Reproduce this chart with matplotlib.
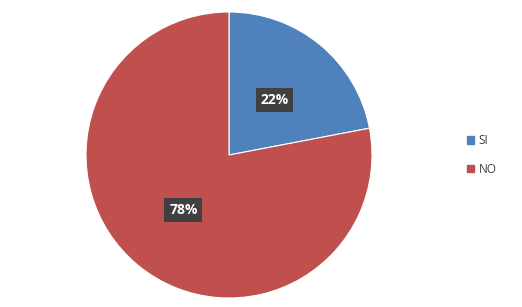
import matplotlib
matplotlib.use("Agg")
import matplotlib.pyplot as plt
import matplotlib.patches as mpatches

# Data
labels = ["SI", "NO"]
values = [22, 78]
colors = ["#4F81BD", "#C0504D"]

W, H = 522, 307
fig = plt.figure(figsize=(W / 100, H / 100), dpi=100)

# pie centered at (229, 155) px, radius 143 px
cx, cy, r = 229, 155, 143
ax = fig.add_axes([(cx - r) / W, (H - cy - r) / H, 2 * r / W, 2 * r / H])

wedges, texts, autotexts = ax.pie(
    values, colors=colors, startangle=90, counterclock=False,
    autopct="%1.0f%%", pctdistance=0.5,
    wedgeprops=dict(edgecolor="white", linewidth=0.8),
    textprops=dict(color="white", fontsize=10, fontweight="bold", family="Open Sans"),
)
for t in autotexts:
    t.set_bbox(dict(boxstyle="square,pad=0.35", facecolor="#404040", edgecolor="none"))
ax.set_aspect("equal")
ax.set_xlim(-1, 1)
ax.set_ylim(-1, 1)

handles = [mpatches.Patch(color=c, label=l) for c, l in zip(colors, labels)]
fig.legend(handles=handles, loc="center left", bbox_to_anchor=(456 / W, 1 - 155 / H),
           frameon=False, handlelength=0.6, handleheight=0.6,
           handletextpad=0.4, labelspacing=1.3, labelcolor="#404040",
           prop=dict(family="Open Sans", size=8.5))

fig.savefig("out.png", dpi=100)
